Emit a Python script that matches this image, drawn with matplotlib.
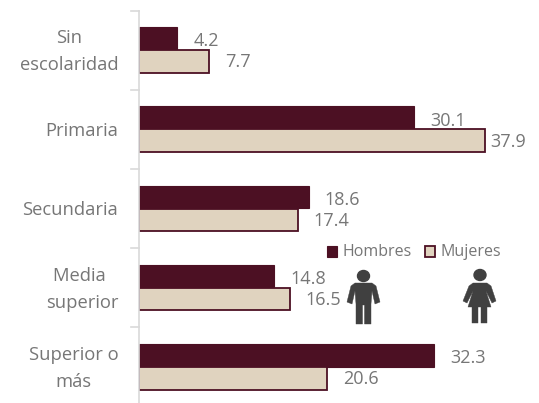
import matplotlib
matplotlib.use('Agg')
import matplotlib.pyplot as plt
from matplotlib.patches import Polygon, Ellipse, Rectangle
from matplotlib.transforms import ScaledTranslation

categories = ['Sin\nescolaridad', 'Primaria', 'Secundaria', 'Media \nsuperior', 'Superior o\nmás']
hombres = [4.2, 30.1, 18.6, 14.8, 32.3]
mujeres = [7.7, 37.9, 17.4, 16.5, 20.6]
dark = '#4C1023'
light = '#E0D3BF'
grey = '#767676'
plt.rcParams['font.family'] = ['Open Sans', 'DejaVu Sans']

fig = plt.figure(figsize=(5.39, 4.03), dpi=100)
ax = fig.add_axes([139/539, 0, 400/539, 392/403])
ax.set_xlim(0, 400 / 9.13)
ax.set_ylim(4.457, -0.492)

for i in range(len(categories)):
    ax.barh(i - 0.145, hombres[i], height=0.285, color=dark, edgecolor=dark, linewidth=0.8)
    ax.barh(i + 0.145, mujeres[i], height=0.285, color=light, edgecolor=dark, linewidth=1.3)
    ax.annotate(f'{hombres[i]}', (hombres[i], i - 0.145), xytext=(16, -3), textcoords='offset pixels',
                fontsize=13, color=grey, va='center')
    # la etiqueta de 37.9 va pegada a la barra
    off = 5 if mujeres[i] > 30 else 16
    ax.annotate(f'{mujeres[i]}', (mujeres[i], i + 0.145), xytext=(off, -1), textcoords='offset pixels',
                fontsize=13, color=grey, va='center')

ax.set_yticks(range(len(categories)))
ax.set_yticklabels(categories, fontsize=13.2, color=grey, linespacing=1.65, multialignment='center')
ax.tick_params(axis='y', length=0, pad=15)
# las etiquetas de dos lineas quedan bajas, se suben un poco
for lab in ax.get_yticklabels():
    if '\n' in lab.get_text():
        lab.set_transform(lab.get_transform() + ScaledTranslation(0, 5 / 100, fig.dpi_scale_trans))
ax.set_xticks([])
for s in ['top', 'right', 'bottom']:
    ax.spines[s].set_visible(False)
ax.spines['left'].set_color('#D9D9D9')
ax.spines['left'].set_linewidth(1.2)
for b in [-0.492, 0.5, 1.5, 2.5, 3.5]:
    ax.plot([-0.02, 0], [b, b], transform=ax.get_yaxis_transform(), color='#D9D9D9', lw=1.2, clip_on=False)

# leyenda e iconos en pixeles de la figura
ov = fig.add_axes([0, 0, 1, 1])
ov.set_xlim(0, 539)
ov.set_ylim(403, 0)
ov.axis('off')
ov.add_patch(Rectangle((327, 246), 10, 11, fc=dark, ec=dark, lw=0.8))
ov.text(342, 251.5, 'Hombres', fontsize=11.5, color=grey, va='center')
ov.add_patch(Rectangle((425, 246), 10, 11, fc=light, ec=dark, lw=1.3))
ov.text(440, 251.5, 'Mujeres', fontsize=11.5, color=grey, va='center')

icon = '#404040'
ov.add_patch(Ellipse((363.5, 276), 12, 11, color=icon))
ov.add_patch(Polygon([(355, 283), (372, 283), (376, 286), (380, 302), (375, 304), (372, 291), (371, 304),
                      (371, 324), (364.5, 324), (364.5, 305), (362.5, 305), (362.5, 324), (356, 324),
                      (356, 304), (355, 291), (352, 304), (347, 302), (351, 286)],
                     fc=icon, ec=icon, lw=0.3, joinstyle='round'))
ov.add_patch(Ellipse((480, 275), 12, 11, color=icon))
ov.add_patch(Polygon([(473, 283), (487, 283), (491, 286), (496, 301), (492, 303), (486, 291), (491, 307),
                      (487, 307), (487, 323), (481, 323), (481, 307), (478, 307), (478, 323), (472, 323),
                      (472, 307), (468, 307), (473, 291), (467, 303), (463, 301), (469, 286)],
                     fc=icon, ec=icon, lw=0.3, joinstyle='round'))

fig.savefig('out.png', dpi=100)
